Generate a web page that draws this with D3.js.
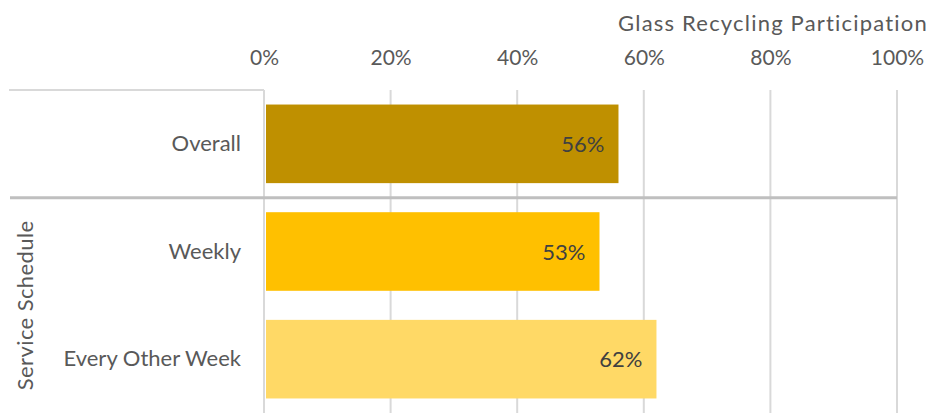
<!DOCTYPE html>
<html>
<head>
<meta charset="utf-8">
<script src="https://cdn.jsdelivr.net/npm/d3@7"></script>
<style>
  html, body { margin: 0; padding: 0; background: #fff; }
  svg { display: block; font-family: Lato, "Open Sans", sans-serif; }
</style>
</head>
<body>
<svg id="chart" width="934" height="413"></svg>
<script>
// Glass recycling participation by service schedule
const categories = ["Overall", "Weekly", "Every Other Week"];
const values = [56, 53, 62];
const barColors = ["#BF9000", "#FFC000", "#FFD966"];
const tickValues = [0, 20, 40, 60, 80, 100];
const chartTitle = "Glass Recycling Participation";
const groupLabel = "Service Schedule";

const svg = d3.select("#chart");
const plotLeft = 264, plotRight = 897, plotTop = 90, plotBottom = 413;

const x = d3.scaleLinear().domain([0, 100]).range([plotLeft, plotRight]);
const y = d3.scaleBand().domain(categories).range([plotTop, plotBottom]).paddingInner(0.27).paddingOuter(0.135);

// vertical gridlines
svg.append("g").selectAll("line").data(tickValues).join("line")
  .attr("x1", d => x(d)).attr("x2", d => x(d))
  .attr("y1", plotTop).attr("y2", plotBottom)
  .attr("stroke", "#d9d9d9").attr("stroke-width", 2);

// top axis labels
const axis = d3.axisTop(x).tickValues(tickValues).tickFormat(d => d + "%").tickSize(0).tickPadding(0);
const ag = svg.append("g").attr("transform", "translate(0,65)").call(axis);
ag.select(".domain").remove();
ag.selectAll("text").attr("font-size", 21).attr("fill", "#595959")
  .attr("font-family", "Lato, sans-serif").attr("dy", 0);

// title
svg.append("text").attr("x", 928).attr("y", 31).attr("text-anchor", "end")
  .attr("font-size", 22).attr("fill", "#595959").attr("letter-spacing", 1.2)
  .text(chartTitle);

// category frame line
svg.append("line").attr("x1", 9).attr("x2", plotLeft).attr("y1", plotTop).attr("y2", plotTop)
  .attr("stroke", "#d9d9d9").attr("stroke-width", 2);
const sepY = (y("Overall") + y.bandwidth() + y("Weekly")) / 2;

// bars
svg.append("g").selectAll("rect").data(categories).join("rect")
  .attr("x", x(0) + 2)
  .attr("y", d => y(d))
  .attr("width", (d, i) => x(values[i]) - x(0) - 2)
  .attr("height", y.bandwidth())
  .attr("fill", (d, i) => barColors[i]);

// separator between overall and service schedule groups
svg.append("line").attr("x1", 10).attr("x2", plotRight).attr("y1", sepY).attr("y2", sepY)
  .attr("stroke", "#bfbfbf").attr("stroke-width", 3);

// value labels
svg.append("g").selectAll("text").data(categories).join("text")
  .attr("x", (d, i) => x(values[i]) - 14)
  .attr("y", d => y(d) + y.bandwidth() / 2 + 8)
  .attr("text-anchor", "end")
  .attr("font-size", 22).attr("fill", "#404040")
  .text((d, i) => values[i] + "%");

// category labels
svg.append("g").selectAll("text").data(categories).join("text")
  .attr("x", 241)
  .attr("y", d => y(d) + y.bandwidth() / 2 + 7)
  .attr("text-anchor", "end")
  .attr("font-size", 22).attr("fill", "#595959")
  .text(d => d);

// group label
const gy = (y("Weekly") + y("Every Other Week") + y.bandwidth()) / 2;
svg.append("text")
  .attr("transform", `translate(33,${gy}) rotate(-90)`)
  .attr("text-anchor", "middle")
  .attr("font-size", 22).attr("fill", "#595959").attr("letter-spacing", 0.4)
  .text(groupLabel);
</script>
</body>
</html>
